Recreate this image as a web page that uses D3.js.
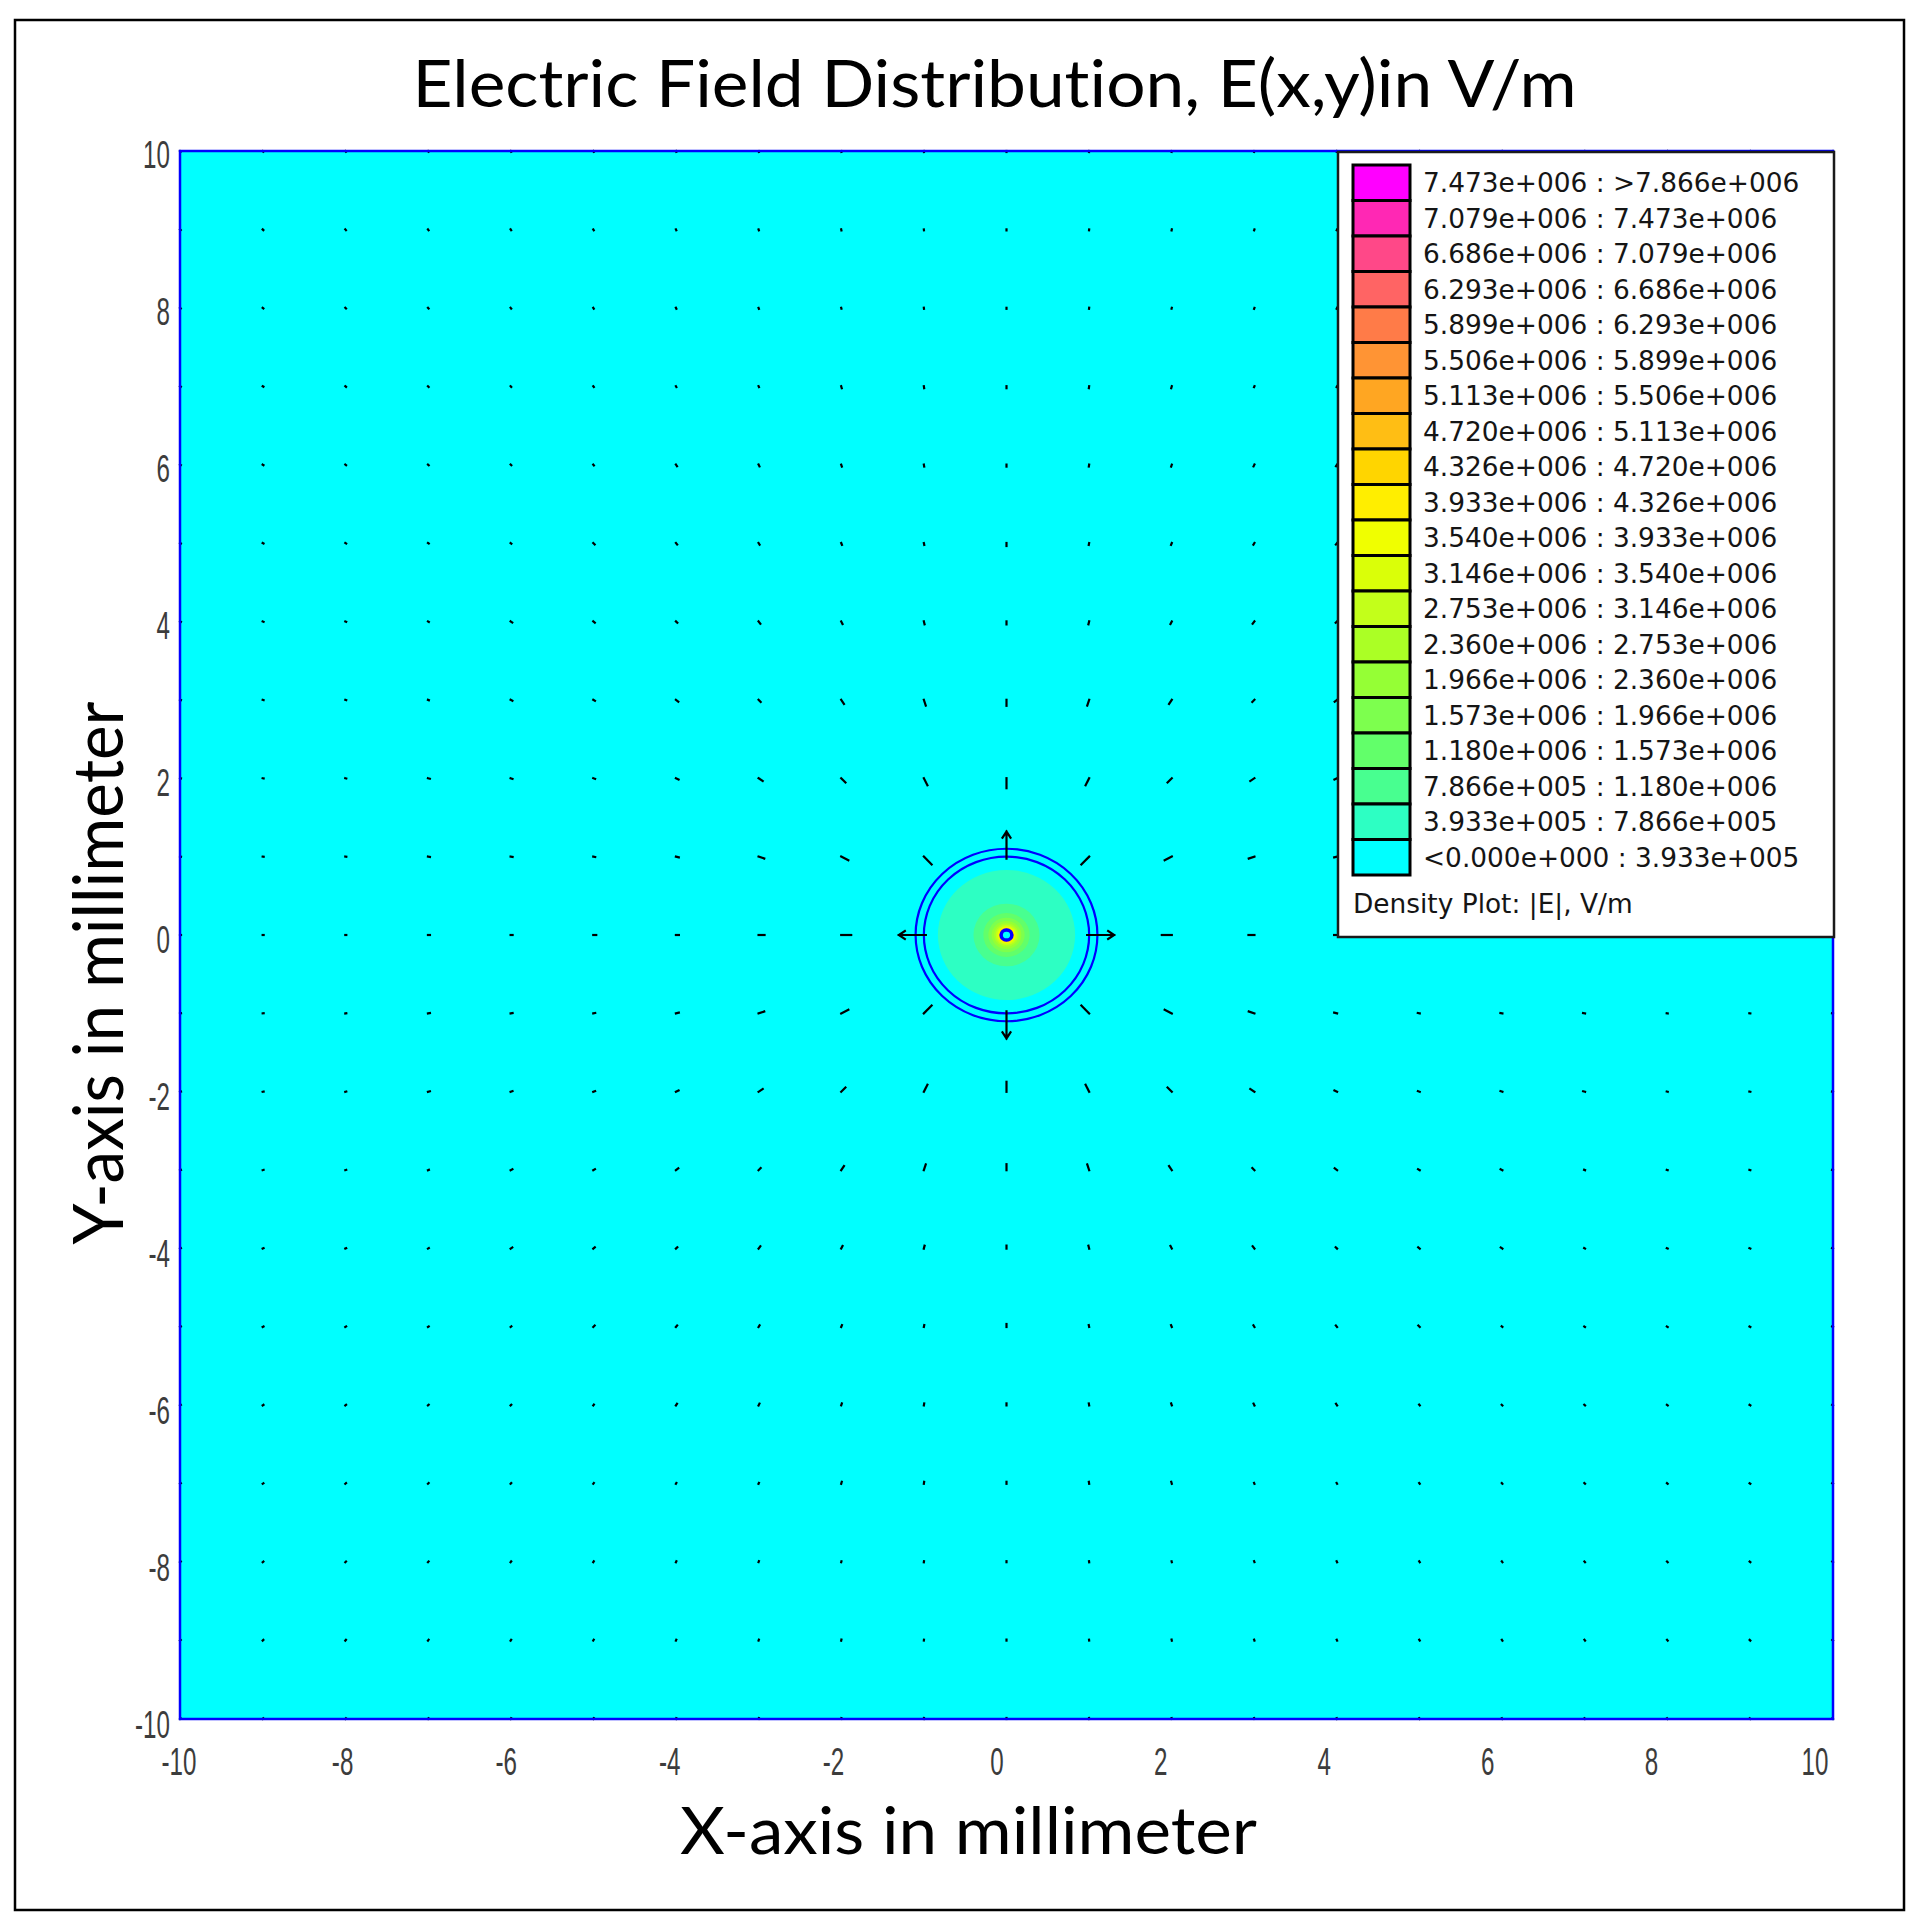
<!DOCTYPE html>
<html lang="en">

<head>
    <meta charset="UTF-8">
    <title>Electric Field Distribution</title>
    <style>
        * {
            margin: 0;
            padding: 0;
        }

        html,
        body {
            overflow: hidden;
            background: #fff;
        }

        text {
            font-variant-ligatures: none;
        }
    </style>
</head>

<body>
    <div id="chart"></div>
    <script src="https://cdn.jsdelivr.net/npm/d3@7"></script>
    <script>
        // grid of field vectors, in mm
        const gridMm = [-10, -9, -8, -7, -6, -5, -4, -3, -2, -1, 0, 1, 2, 3, 4, 5, 6, 7, 8, 9, 10]
        const xTicks = [-10, -8, -6, -4, -2, 0, 2, 4, 6, 8, 10]
        const yTicks = [-10, -8, -6, -4, -2, 0, 2, 4, 6, 8, 10]

        // legend, top to bottom
        const legendLabels = [
            '7.473e+006 : >7.866e+006', '7.079e+006 : 7.473e+006', '6.686e+006 : 7.079e+006',
            '6.293e+006 : 6.686e+006', '5.899e+006 : 6.293e+006', '5.506e+006 : 5.899e+006',
            '5.113e+006 : 5.506e+006', '4.720e+006 : 5.113e+006', '4.326e+006 : 4.720e+006',
            '3.933e+006 : 4.326e+006', '3.540e+006 : 3.933e+006', '3.146e+006 : 3.540e+006',
            '2.753e+006 : 3.146e+006', '2.360e+006 : 2.753e+006', '1.966e+006 : 2.360e+006',
            '1.573e+006 : 1.966e+006', '1.180e+006 : 1.573e+006', '7.866e+005 : 1.180e+006',
            '3.933e+005 : 7.866e+005', '<0.000e+000 : 3.933e+005'
        ]
        const legendColors = [
            '#FF00FF', '#FF28B4', '#FF4888', '#FF6464', '#FF7B48', '#FF9434', '#FFA622',
            '#FFBE14', '#FFD500', '#FFEE00', '#F0FF00', '#DAFF08', '#C3FF1A', '#ABFF25',
            '#95FF35', '#7DFF4E', '#62FF6A', '#48FF90', '#2DFFC3', '#00FFFF'
        ]

        // |E| bands around the wire: legend level (index in legendColors) and outer radius in mm
        const bandLevel = [18, 17, 16, 15, 14, 13, 12, 11, 10, 9, 8, 6, 4, 2]
        const bandRadius = [0.83, 0.40, 0.28, 0.22, 0.18, 0.15, 0.13, 0.115, 0.105, 0.097, 0.09, 0.085, 0.08, 0.076]
        const wireRadius = 0.065
        const ringRadius = [1.0, 1.1]

        // vector length (px) by distance from the wire (mm), step lookup
        const arrowReach = [1.0, 1.5, 2.0, 2.3, 2.9, 3.2, 3.7, 5.0, 7.5, 15]
        const arrowLength = [25, 12, 11, 9, 7, 7, 6, 4, 3, 2]

        function drawChart() {
            const width = 1917
            const height = 1928
            const svg = d3.select('#chart')
                .append('svg')
                .attr('width', width)
                .attr('height', height)
                .style('background', '#fff')

            const x = d3.scaleLinear().domain([-10, 10]).range([180, 1833])
            const y = d3.scaleLinear().domain([-10, 10]).range([1719, 151])
            // tick labels sit a bit off the ticks in the original
            const labelX = d3.scaleLinear().domain([-10, 10]).range([179, 1815])
            const labelY = d3.scaleLinear().domain([-10, 10]).range([1724, 153.5])

            // outer frame
            svg.append('rect')
                .attr('x', 15).attr('y', 20)
                .attr('width', 1889).attr('height', 1890)
                .attr('fill', 'none')
                .attr('stroke', '#000')
                .attr('stroke-width', 2.5)

            // plot area
            svg.append('rect')
                .attr('x', x(-10)).attr('y', y(10))
                .attr('width', x(10) - x(-10)).attr('height', y(-10) - y(10))
                .attr('fill', '#00FFFF')

            const cx = x(0)
            const cy = y(0)

            // density bands
            svg.append('g').selectAll('ellipse')
                .data(bandRadius.map((r, i) => ({ r, c: legendColors[bandLevel[i]] })))
                .join('ellipse')
                .attr('cx', cx).attr('cy', cy)
                .attr('rx', d => x(d.r) - cx)
                .attr('ry', d => cy - y(d.r))
                .attr('fill', d => d.c)

            // wire
            svg.append('ellipse')
                .attr('cx', cx).attr('cy', cy)
                .attr('rx', x(wireRadius) - cx)
                .attr('ry', cy - y(wireRadius))
                .attr('fill', '#00FFFF')
                .attr('stroke', '#0000FF')
                .attr('stroke-width', 3.5)

            // insulation rings
            svg.append('g').selectAll('ellipse')
                .data(ringRadius)
                .join('ellipse')
                .attr('cx', cx).attr('cy', cy)
                .attr('rx', d => x(d) - cx)
                .attr('ry', d => cy - y(d))
                .attr('fill', 'none')
                .attr('stroke', '#0000FF')
                .attr('stroke-width', 2.2)

            // field vectors
            const pts = []
            gridMm.forEach(gx => gridMm.forEach(gy => {
                if (gx === 0 && gy === 0) return
                const r = Math.hypot(gx, gy)
                let i = arrowReach.findIndex(a => r <= a + 1e-6)
                if (i < 0) i = arrowLength.length - 1
                pts.push({ gx, gy, r, len: arrowLength[i] })
            }))

            const vec = svg.append('g')
                .attr('stroke', '#000')
                .attr('fill', 'none')
                .attr('stroke-linecap', 'square')
            vec.selectAll('path')
                .data(pts)
                .join('path')
                .attr('stroke-width', d => d.len >= 20 ? 2.2 : 2.2)
                .attr('d', d => {
                    const ux = d.gx / d.r
                    const uy = -d.gy / d.r
                    const px = x(d.gx)
                    const py = y(d.gy)
                    if (d.len >= 20) {
                        const tx = px + ux * d.len
                        const ty = py + uy * d.len
                        const bx = tx - ux * 6
                        const by = ty - uy * 6
                        return `M${px - ux * 2},${py - uy * 2}L${tx},${ty}` +
                            `M${bx - uy * 4},${by + ux * 4}L${tx},${ty}L${bx + uy * 4},${by - ux * 4}`
                    }
                    return `M${px},${py}L${px - ux * (d.len - 1)},${py - uy * (d.len - 1)}`
                })

            // plot border
            svg.append('rect')
                .attr('x', x(-10)).attr('y', y(10))
                .attr('width', x(10) - x(-10)).attr('height', y(-10) - y(10))
                .attr('fill', 'none')
                .attr('stroke', '#0000FF')
                .attr('stroke-width', 2.5)

            // tick labels (narrow font)
            svg.append('g').selectAll('text')
                .data(xTicks)
                .join('text')
                .attr('transform', d => `translate(${labelX(d)},1775) scale(0.62,1)`)
                .attr('text-anchor', 'middle')
                .attr('font-family', 'Liberation Sans, Arial, sans-serif')
                .attr('font-size', 39)
                .attr('fill', '#3c3c3c')
                .text(d => d)

            svg.append('g').selectAll('text')
                .data(yTicks)
                .join('text')
                .attr('transform', d => `translate(170,${labelY(d) + 14}) scale(0.62,1)`)
                .attr('text-anchor', 'end')
                .attr('font-family', 'Liberation Sans, Arial, sans-serif')
                .attr('font-size', 39)
                .attr('fill', '#3c3c3c')
                .text(d => d)

            // legend
            const lg = svg.append('g')
            lg.append('rect')
                .attr('x', 1338).attr('y', 152)
                .attr('width', 496).attr('height', 785)
                .attr('fill', '#fff')
                .attr('stroke', '#1a1a1a')
                .attr('stroke-width', 2.5)

            const row = d3.scaleBand()
                .domain(legendLabels)
                .range([165, 875])

            lg.selectAll('rect.sw')
                .data(legendLabels)
                .join('rect')
                .attr('class', 'sw')
                .attr('x', 1353)
                .attr('y', d => row(d))
                .attr('width', 57)
                .attr('height', row.bandwidth())
                .attr('fill', (d, i) => legendColors[i])
                .attr('stroke', '#000')
                .attr('stroke-width', 3)

            lg.selectAll('text.lab')
                .data(legendLabels)
                .join('text')
                .attr('class', 'lab')
                .attr('x', 1423)
                .attr('y', d => row(d) + row.bandwidth() / 2 + 9.5)
                .attr('font-family', 'DejaVu Sans, sans-serif')
                .attr('font-size', 26.4)
                .attr('fill', '#151515')
                .text(d => d)

            lg.append('text')
                .attr('x', 1353)
                .attr('y', 913)
                .attr('font-family', 'DejaVu Sans, sans-serif')
                .attr('font-size', 26.4)
                .attr('fill', '#151515')
                .text('Density Plot: |E|, V/m')

            // titles
            svg.append('text')
                .attr('x', 994.5).attr('y', 107)
                .attr('text-anchor', 'middle')
                .attr('font-family', 'Lato, Open Sans, sans-serif')
                .attr('font-size', 66)
                .attr('textLength', 1164)
                .attr('lengthAdjust', 'spacingAndGlyphs')
                .text('Electric Field Distribution, E(x,y)in V/m')

            svg.append('text')
                .attr('x', 968.5).attr('y', 1854)
                .attr('text-anchor', 'middle')
                .attr('font-family', 'Lato, Open Sans, sans-serif')
                .attr('font-size', 66)
                .attr('textLength', 577)
                .attr('lengthAdjust', 'spacingAndGlyphs')
                .text('X-axis in millimeter')

            svg.append('text')
                .attr('transform', 'translate(123,973) rotate(-90)')
                .attr('text-anchor', 'middle')
                .attr('font-family', 'Lato, Open Sans, sans-serif')
                .attr('font-size', 70)
                .attr('textLength', 543)
                .attr('lengthAdjust', 'spacingAndGlyphs')
                .text('Y-axis in millimeter')
        }

        drawChart()
    </script>
</body>

</html>
